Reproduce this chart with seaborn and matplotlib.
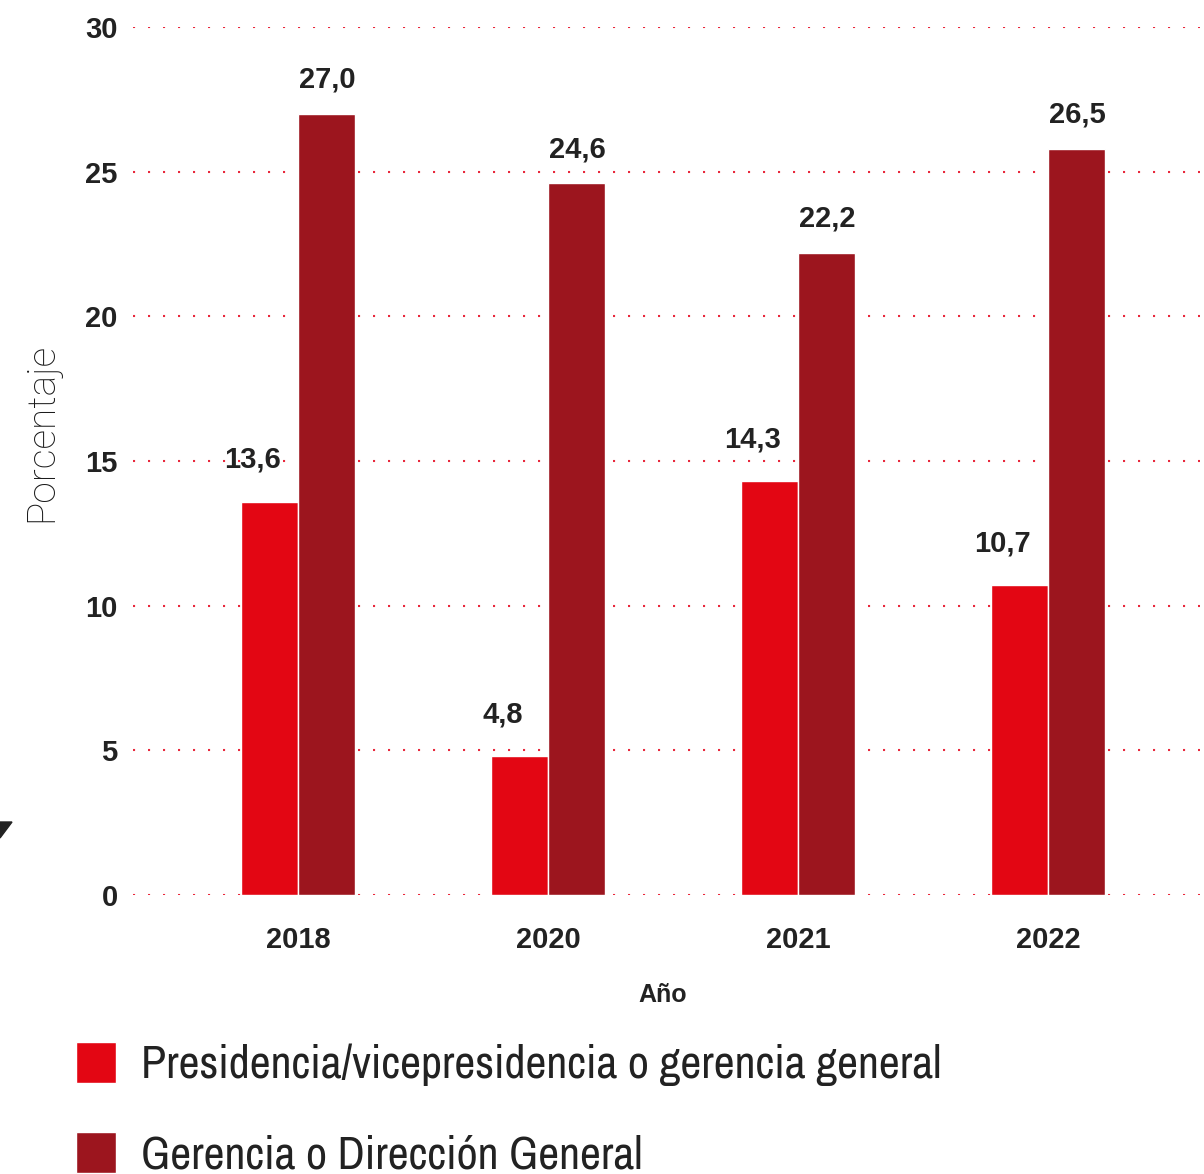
import numpy as np
import pandas as pd
import matplotlib
matplotlib.use("Agg")
import matplotlib.pyplot as plt
from matplotlib import font_manager
from matplotlib.patches import Polygon
import seaborn as sns

years = ["2018", "2020", "2021", "2022"]
series_names = ["Presidencia/vicepresidencia o gerencia general",
                "Gerencia o Dirección General"]
presidencia = [13.6, 4.8, 14.3, 10.7]
# the 2022 bar in the source is drawn a bit lower than its label says
gerencia = [27.0, 24.6, 22.2, 25.8]
presidencia_labels = ["13,6", "4,8", "14,3", "10,7"]
gerencia_labels = ["27,0", "24,6", "22,2", "26,5"]
y_ticks = [0, 5, 10, 15, 20, 25, 30]

RED = "#E30613"
DARK = "#9C151E"
TEXT = "#222222"
GRID = "#E8283C"

df = pd.DataFrame({
    "year": years * 2,
    "serie": [series_names[0]] * len(years) + [series_names[1]] * len(years),
    "value": presidencia + gerencia,
})

sns.set_theme(style="white")
plt.rcParams["font.family"] = ["Liberation Sans", "DejaVu Sans"]

# look for a narrow face for the legend, otherwise fall back on Roboto
narrow = None
for f in font_manager.fontManager.ttflist:
    n = f.name.lower()
    if ("narrow" in n or "condensed" in n) and "mono" not in n:
        narrow = f.name
        break

W, H = 1204, 1174
fig = plt.figure(figsize=(W / 100, H / 100), dpi=100)
ax = fig.add_axes([133 / W, 1 - 895 / H, (1200 - 133) / W, (895 - 27) / H])

sns.barplot(data=df, x="year", y="value", hue="serie", order=years,
            hue_order=series_names, palette=[RED, DARK], saturation=1,
            width=0.456, gap=0, ax=ax, legend=True)

ax.set_xlim(-0.66, 3.608)
ax.set_ylim(0, 30)
ax.set_yticks(y_ticks)
ax.set_yticklabels([str(t) for t in y_ticks])
ax.set_axisbelow(True)
ax.yaxis.grid(True, color=GRID, linestyle=(0, (1, 6.2)), linewidth=1.5)
ax.xaxis.grid(False)
for s in ax.spines.values():
    s.set_visible(False)
ax.tick_params(axis="both", length=0, labelsize=21, colors=TEXT)
ax.tick_params(axis="y", pad=11)
ax.tick_params(axis="x", pad=22)
for lab in ax.get_xticklabels() + ax.get_yticklabels():
    lab.set_fontweight("bold")

# value labels
for container, texts, dx, dy in zip(ax.containers,
                                    [presidencia_labels, gerencia_labels],
                                    [-17, 1], [42, 34]):
    for bar, t in zip(container, texts):
        ax.annotate(t, (bar.get_x() + bar.get_width() / 2, bar.get_height()),
                    xytext=(dx, dy), textcoords="offset pixels",
                    ha="center", va="center", fontsize=21,
                    fontweight="bold", color=TEXT)

ax.set_xlabel("Año", fontsize=18, fontweight="bold", color=TEXT)
ax.xaxis.set_label_coords(0.496, -0.115)
ax.xaxis.label.set_va("center")
ax.set_ylabel("Porcentaje", fontsize=28, color="#1a1a1a",
              family=["Roboto", "DejaVu Sans"], fontweight="light")
ax.yaxis.set_label_coords(-0.0853, 0.533)
ax.yaxis.label.set_va("center")

if narrow is not None:
    leg_prop = {"family": [narrow, "DejaVu Sans"], "size": 33,
                "weight": "light"}
else:
    leg_prop = {"family": ["Roboto", "DejaVu Sans"], "size": 28,
                "weight": "light"}

handles, labels = ax.get_legend_handles_labels()
ax.get_legend().remove()
fig.legend(handles, labels, loc="upper left",
           bbox_to_anchor=(76 / W, 1 - 1042 / H), frameon=False,
           borderpad=0, borderaxespad=0, handlelength=0.87,
           handleheight=1.0, handletextpad=0.55, labelspacing=1.0,
           prop=leg_prop, labelcolor=TEXT)

# small mark at the left edge
fig.patches.append(Polygon([(0, 1 - 822 / H), (12 / W, 1 - 822 / H),
                            (0, 1 - 838 / H)], closed=True,
                           transform=fig.transFigure, color="#222222"))

fig.savefig("out.png", dpi=100, facecolor="white")
